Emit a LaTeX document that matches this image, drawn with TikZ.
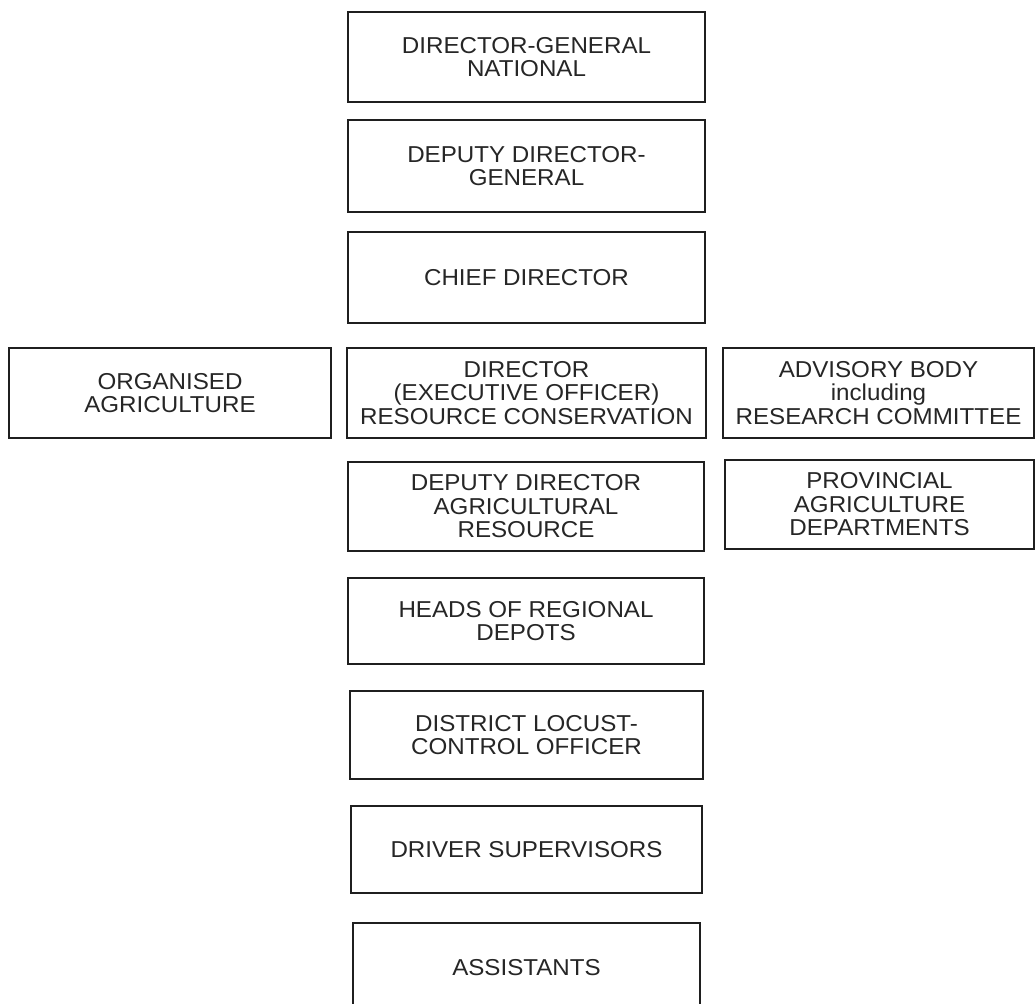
\documentclass[tikz,border=0pt]{standalone}
\usepackage{fontspec}
\setmainfont{Liberation Sans}[FakeStretch=1.05]
\begin{document}
\begin{tikzpicture}[x=1pt,y=-1pt,
  box/.style={draw=black!88, line width=1.5pt, fill=white, inner sep=0pt,
    align=center, font=\fontsize{23}{23.5}\selectfont, text=black!85}]
\useasboundingbox (0,0) rectangle (1035,1003);
\fill[white] (0,0) rectangle (1035,1003);
\clip (0,0) rectangle (1035,1003);
\node[box, minimum width=357pt, minimum height=90pt] (dg) at (526.5,57) {DIRECTOR-GENERAL\\NATIONAL};
\node[box, minimum width=357pt, minimum height=92pt] (ddg) at (526.5,166) {DEPUTY DIRECTOR-\\GENERAL};
\node[box, minimum width=357pt, minimum height=91pt] (cd) at (526.5,277.5) {CHIEF DIRECTOR};
\node[box, minimum width=322pt, minimum height=90pt] (oa) at (170,393) {ORGANISED\\AGRICULTURE};
\node[box, minimum width=359pt, minimum height=90pt] (dir) at (526.5,393) {DIRECTOR\\(EXECUTIVE OFFICER)\\RESOURCE CONSERVATION};
\node[box, minimum width=311pt, minimum height=90pt] (adv) at (878.5,393) {ADVISORY BODY\\including\\RESEARCH COMMITTEE};
\node[box, minimum width=356pt, minimum height=89pt] (dda) at (526,506.5) {DEPUTY DIRECTOR\\AGRICULTURAL\\RESOURCE};
\node[box, minimum width=309pt, minimum height=89pt] (pad) at (879.5,504.5) {PROVINCIAL\\AGRICULTURE\\DEPARTMENTS};
\node[box, minimum width=356pt, minimum height=86pt] (hrd) at (526,621) {HEADS OF REGIONAL\\DEPOTS};
\node[box, minimum width=353pt, minimum height=88pt] (dlc) at (526.5,735) {DISTRICT LOCUST-\\CONTROL OFFICER};
\node[box, minimum width=351pt, minimum height=87pt] (drv) at (526.5,849.5) {DRIVER SUPERVISORS};
\node[box, minimum width=347pt, minimum height=89pt] (ass) at (526.5,967.5) {ASSISTANTS};
\end{tikzpicture}
\end{document}
